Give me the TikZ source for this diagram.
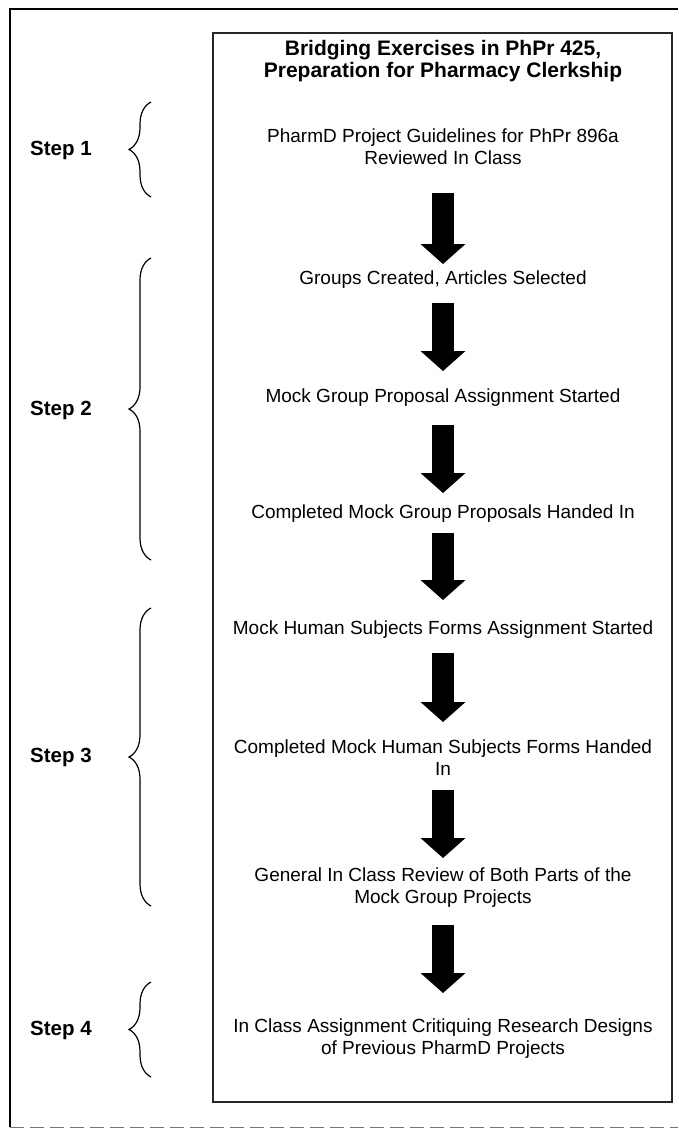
\documentclass[tikz,border=0pt]{standalone}
\usepackage{fontspec}
\setmainfont{Liberation Sans}
\usetikzlibrary{arrows.meta,decorations.pathreplacing}
\begin{document}
\begin{tikzpicture}[x=1pt,y=-1pt,
  txt/.style={font=\fontsize{19}{22}\selectfont, align=center, inner sep=0pt},
  ttl/.style={font=\bfseries\fontsize{21}{22}\selectfont, align=center, inner sep=0pt},
  steplbl/.style={font=\bfseries\fontsize{20.5}{22}\selectfont, inner sep=0pt},
  bigarrow/.style={line width=22pt, line cap=butt, -{Triangle[width=45pt,length=20pt,line width=0pt]}},
  brc/.style={decorate, decoration={brace, amplitude=22pt}, line width=1.2pt},
  frame/.style={line width=1.6pt},
  innerbox/.style={line width=1.1pt, draw=black!85}
]
\useasboundingbox (0,0) rectangle (678,1130);
% outer frame
\draw[frame] (678,9) -- (10,9) -- (10,1127);
\draw[line width=1pt, draw=black!55, dash pattern=on 14pt off 6pt] (10,1127) -- (678,1127);
% inner box
\draw[innerbox] (213,33) rectangle (672,1102);

% title
\node[ttl] (title) at (443,61) {Bridging Exercises in PhPr 425,\\Preparation for Pharmacy Clerkship};

% flow nodes
\node[txt] (n1) at (443,147) {PharmD Project Guidelines for PhPr 896a\\Reviewed In Class};
\node[txt] (n2) at (443,280) {Groups Created, Articles Selected};
\node[txt] (n3) at (443,398) {Mock Group Proposal Assignment Started};
\node[txt] (n4) at (443,514) {Completed Mock Group Proposals Handed In};
\node[txt] (n5) at (443,630) {Mock Human Subjects Forms Assignment Started};
\node[txt] (n6) at (443,758) {Completed Mock Human Subjects Forms Handed\\In};
\node[txt] (n7) at (443,888) {General In Class Review of Both Parts of the\\Mock Group Projects};
\node[txt] (n8) at (443,1039) {In Class Assignment Critiquing Research Designs\\of Previous PharmD Projects};

% arrows
\draw[bigarrow] ([yshift=-46pt]n1.center) -- ([yshift=16pt]n2.center);
\draw[bigarrow] ([yshift=-23pt]n2.center) -- ([yshift=27pt]n3.center);
\draw[bigarrow] ([yshift=-27pt]n3.center) -- ([yshift=21pt]n4.center);
\draw[bigarrow] ([yshift=-19pt]n4.center) -- ([yshift=30pt]n5.center);
\draw[bigarrow] ([yshift=-23pt]n5.center) -- ([yshift=36pt]n6.center);
\draw[bigarrow] ([yshift=-32pt]n6.center) -- ([yshift=30pt]n7.center);
\draw[bigarrow] ([yshift=-37pt]n7.center) -- ([yshift=46pt]n8.center);

% step labels
\node[steplbl] (s1) at (61,150) {Step 1};
\node[steplbl] (s2) at (61,410) {Step 2};
\node[steplbl] (s3) at (61,757) {Step 3};
\node[steplbl] (s4) at (61,1030) {Step 4};

% braces
\draw[brc] (151,197) -- (151,102);
\draw[brc] (151,560) -- (151,258);
\draw[brc] (151,906) -- (151,608);
\draw[brc] (151,1077) -- (151,982);
\end{tikzpicture}
\end{document}
